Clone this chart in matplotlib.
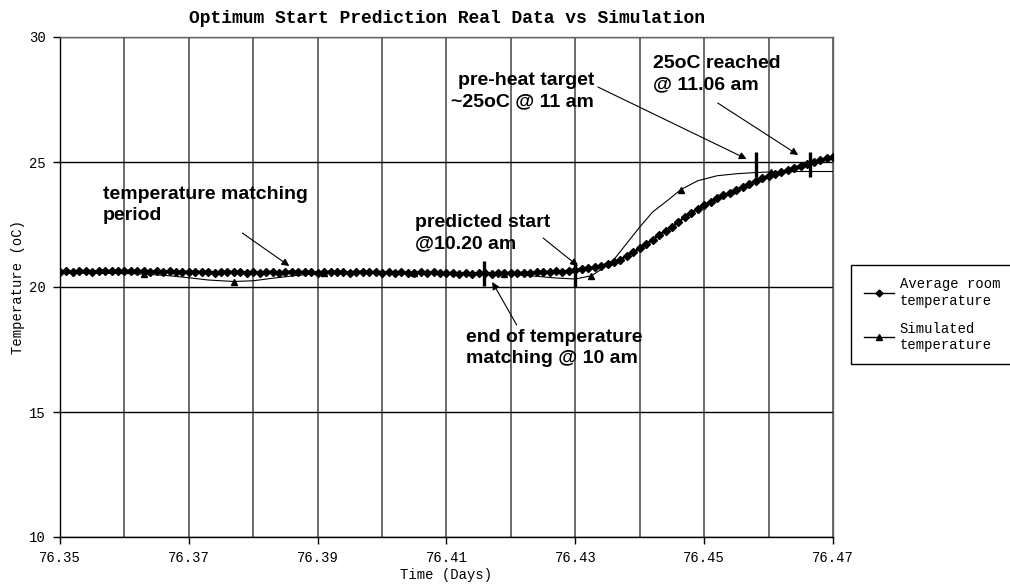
import matplotlib
matplotlib.use("Agg")
import matplotlib.pyplot as plt
from matplotlib.lines import Line2D
import numpy as np

# measured room temperature, one reading per 0.001 day
avg_time = np.round(np.arange(76.350, 76.4705, 0.001), 3)
avg_temp = [
    20.62, 20.64, 20.61, 20.63, 20.65, 20.62, 20.64, 20.66, 20.63, 20.65,
    20.64, 20.66, 20.63, 20.65, 20.62, 20.64, 20.61, 20.63, 20.60, 20.62,
    20.60, 20.62, 20.59, 20.61, 20.58, 20.60, 20.62, 20.59, 20.61, 20.58,
    20.60, 20.57, 20.59, 20.61, 20.58, 20.60, 20.62, 20.59, 20.61, 20.60,
    20.58, 20.60, 20.62, 20.59, 20.61, 20.58, 20.60, 20.62, 20.59, 20.61,
    20.58, 20.60, 20.57, 20.59, 20.56, 20.58, 20.60, 20.57, 20.59, 20.56,
    20.55, 20.57, 20.54, 20.56, 20.53, 20.55, 20.57, 20.54, 20.56, 20.55,
    20.57, 20.55, 20.58, 20.56, 20.59, 20.61, 20.60, 20.63, 20.62, 20.66,
    20.70,
    20.72, 20.75, 20.80, 20.85, 20.92, 21.00, 21.10, 21.25, 21.40, 21.55,
    21.72, 21.90, 22.08, 22.25, 22.42, 22.60, 22.80, 22.97, 23.12, 23.27,
    23.42, 23.55, 23.67, 23.78, 23.90, 24.00, 24.12, 24.24, 24.35, 24.45,
    24.52, 24.60, 24.68, 24.77, 24.85, 24.93, 25.00, 25.08, 25.15, 25.20,
]

# simulated temperature
sim_time = [76.350, 76.355, 76.360, 76.363, 76.367, 76.370, 76.373, 76.377,
            76.380, 76.383, 76.387, 76.391, 76.398, 76.405, 76.412, 76.419,
            76.423, 76.427, 76.430, 76.4325, 76.434, 76.436, 76.438, 76.440,
            76.442, 76.4445, 76.4464, 76.449, 76.452, 76.455, 76.458, 76.4603,
            76.465, 76.470]
sim_temp = [20.55, 20.55, 20.54, 20.52, 20.45, 20.37, 20.28, 20.22,
            20.25, 20.35, 20.47, 20.55, 20.56, 20.55, 20.54, 20.52,
            20.45, 20.36, 20.32, 20.45, 20.70, 21.10, 21.75, 22.40,
            23.00, 23.50, 23.90, 24.25, 24.45, 24.53, 24.58, 24.60,
            24.62, 24.62]
sim_marks = [3, 7, 11, 13, 15, 19, 26, 31]

# event bars (time, low, high)
event_time = [76.4158, 76.430, 76.4581, 76.4664]
event_lo = [20.05, 20.0, 24.4, 24.4]
event_hi = [21.05, 21.0, 25.4, 25.4]

mono = "Liberation Mono"
sans = "Liberation Sans"

fig = plt.figure(figsize=(10.10, 5.85), dpi=100)
ax = fig.add_axes([60 / 1010, 1 - 537 / 585, (833 - 60) / 1010, 500 / 585])

ax.plot(avg_time, avg_temp, color="black", lw=1.7, marker="D", ms=3.8,
        zorder=4)
ax.plot(sim_time, sim_temp, color="black", lw=0.8, marker="^", ms=5,
        markevery=sim_marks, zorder=3)
ax.vlines(event_time, event_lo, event_hi, color="black", lw=2.4, zorder=5)

ax.set_xlim(76.35, 76.47)
ax.set_ylim(10, 30)
ax.set_xticks(np.round(np.arange(76.35, 76.4705, 0.02), 2))
ax.set_xticks(np.round(np.arange(76.35, 76.4705, 0.01), 2), minor=True)
ax.set_yticks([10, 15, 20, 25, 30])
ax.xaxis.set_major_formatter(matplotlib.ticker.FormatStrFormatter("%.2f"))

ax.grid(axis="x", which="both", color="#444444", lw=1.1)
ax.grid(axis="y", which="major", color="black", lw=1.0)
ax.set_axisbelow(True)

ax.tick_params(axis="x", which="major", direction="out", length=5, width=1,
               pad=5, labelsize=10)
ax.tick_params(axis="x", which="minor", length=0)
ax.tick_params(axis="y", direction="out", length=5, width=1, pad=5,
               labelsize=10)
for lab in ax.get_xticklabels() + ax.get_yticklabels():
    lab.set_family(mono)

for s in ["left", "bottom"]:
    ax.spines[s].set_color("black")
    ax.spines[s].set_linewidth(1.0)
for s in ["top", "right"]:
    ax.spines[s].set_color("#666666")
    ax.spines[s].set_linewidth(1.0)

ax.set_xlabel("Time (Days)", family=mono, fontsize=10, labelpad=2)
ax.set_ylabel("Temperature (oC)", family=mono, fontsize=10, labelpad=3)
ax.set_title("Optimum Start Prediction Real Data vs Simulation",
             family=mono, fontweight="bold", fontsize=13, pad=10)

arrow = dict(arrowstyle="-|>", color="black", lw=0.8, mutation_scale=11,
             shrinkA=0, shrinkB=0)
tfont = dict(family=sans, fontweight="bold", fontsize=14, linespacing=1.3)

ax.text(76.3567, 24.04, "temperature matching\nperiod", ha="left", va="top",
        **tfont)
ax.annotate("", xy=(76.3856, 20.84), xytext=(76.3783, 22.16),
            arrowprops=arrow)

ax.text(76.4051, 22.92, "predicted start\n@10.20 am", ha="left", va="top",
        **tfont)
ax.annotate("", xy=(76.4304, 20.84), xytext=(76.425, 21.96),
            arrowprops=arrow)

ax.text(76.413, 18.32, "end of temperature\nmatching @ 10 am", ha="left",
        va="top", **tfont)
ax.annotate("", xy=(76.4171, 20.2), xytext=(76.4209, 18.48),
            arrowprops=arrow)

ax.text(76.4329, 28.6, "pre-heat target\n~25oC @ 11 am", ha="right",
        va="top", **tfont)
ax.annotate("", xy=(76.4566, 25.12), xytext=(76.4335, 28.0),
            arrowprops=arrow)

ax.text(76.4421, 29.28, "25oC reached\n@ 11.06 am", ha="left", va="top",
        **tfont)
ax.annotate("", xy=(76.4646, 25.28), xytext=(76.4521, 27.36),
            arrowprops=arrow)

handles = [
    Line2D([], [], color="black", lw=1.0, marker="D", ms=3.5),
    Line2D([], [], color="black", lw=1.0, marker="^", ms=5),
]
fig.legend(handles, ["Average room\ntemperature", "Simulated\ntemperature"],
           loc="upper left", bbox_to_anchor=(851 / 1010, 1 - 265 / 585),
           borderaxespad=0, frameon=True, fancybox=False, edgecolor="black",
           framealpha=1, numpoints=1, handlelength=2.2, handletextpad=0.4,
           labelspacing=1.0, borderpad=0.9,
           prop={"family": mono, "size": 10})

fig.savefig("out.png", dpi=100)
